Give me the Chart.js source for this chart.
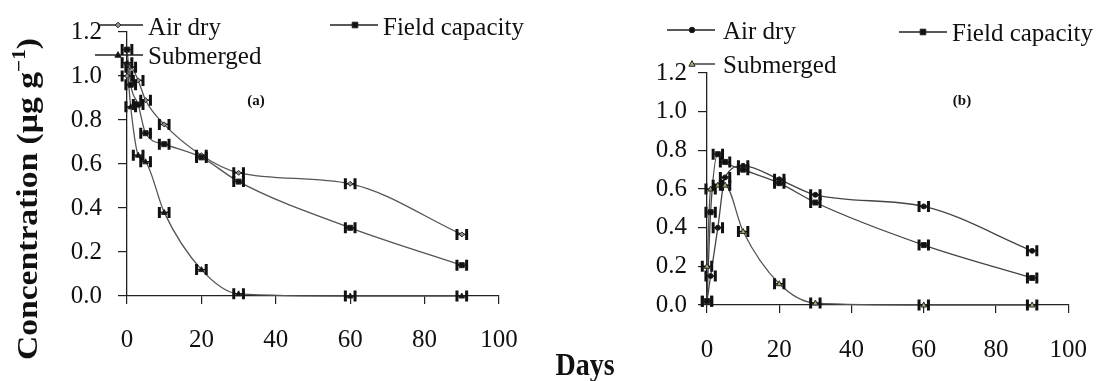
<!DOCTYPE html>
<html>
<head>
<meta charset="utf-8">
<script src="https://cdn.jsdelivr.net/npm/chart.js@4/dist/chart.umd.min.js"></script>
<style>
  body { margin: 0; background: #fff; width: 1109px; height: 381px; overflow: hidden; position: relative; }
  #ca { position: absolute; left: 0; top: 0; }
  #cb { position: absolute; left: 555px; top: 0; }
  #days { position: absolute; left: 585px; top: 365px; transform: translate(-50%, -50%) scaleY(1.1);
          font: bold 28px "Liberation Serif", "DejaVu Serif", serif; color: #111; }
</style>
</head>
<body>
<canvas id="ca" width="555" height="381"></canvas>
<canvas id="cb" width="554" height="381"></canvas>
<div id="days">Days</div>
<script>
// sampling days (both panels)
const days = [0, 1, 3, 5, 10, 20, 30, 60, 90];

// panel (a)
const airDryA    = [1.00, 1.04, 0.98, 0.89, 0.78, 0.64, 0.56, 0.51, 0.28];
const fieldCapA  = [1.12, 0.96, 0.87, 0.74, 0.69, 0.63, 0.52, 0.31, 0.14];
const submergedA = [1.06, 0.86, 0.64, 0.61, 0.38, 0.12, 0.01, 0.00, 0.00];

// panel (b)
const airDryB    = [0.02, 0.15, 0.40, 0.66, 0.72, 0.65, 0.57, 0.51, 0.28];
const fieldCapB  = [0.02, 0.48, 0.78, 0.74, 0.70, 0.63, 0.53, 0.31, 0.14];
const submergedB = [0.20, 0.60, 0.62, 0.62, 0.38, 0.11, 0.01, 0.00, 0.00];

// horizontal error (days)
const xError = 1.3;

const xTicks = [0, 20, 40, 60, 80, 100];
const yTicks = [0, 0.2, 0.4, 0.6, 0.8, 1.0, 1.2];

const SERIF = '"Liberation Serif", "DejaVu Serif", serif';
Chart.defaults.font.family = SERIF;
Chart.defaults.color = '#111';

const pts = vals => vals.map((v, i) => ({ x: days[i], y: v }));

function drawMarker(ctx, style, x, y, r, fill, stroke) {
  ctx.save();
  ctx.fillStyle = fill;
  ctx.strokeStyle = stroke;
  ctx.lineWidth = 1;
  ctx.beginPath();
  if (style === 'rect') {
    ctx.rect(x - r, y - r, 2 * r, 2 * r);
  } else if (style === 'rectRot') {
    ctx.moveTo(x, y - r); ctx.lineTo(x + r, y); ctx.lineTo(x, y + r); ctx.lineTo(x - r, y); ctx.closePath();
  } else if (style === 'triangle') {
    ctx.moveTo(x, y - r * 1.2); ctx.lineTo(x + r * 1.1, y + r * 0.8); ctx.lineTo(x - r * 1.1, y + r * 0.8); ctx.closePath();
  } else {
    ctx.arc(x, y, r, 0, Math.PI * 2);
  }
  ctx.fill();
  ctx.stroke();
  ctx.restore();
}

const errorBars = {
  id: 'errorBars',
  afterDatasetsDraw(chart) {
    const ctx = chart.ctx, xs = chart.scales.x;
    ctx.save();
    ctx.strokeStyle = '#111';
    chart.data.datasets.forEach((ds, i) => {
      chart.getDatasetMeta(i).data.forEach((el, j) => {
        const v = ds.data[j].x;
        const dx = xs.getPixelForValue(v + xError) - xs.getPixelForValue(v);
        ctx.lineWidth = 1.5;
        ctx.beginPath();
        ctx.moveTo(el.x - dx, el.y); ctx.lineTo(el.x + dx, el.y);
        ctx.stroke();
        ctx.lineWidth = 3;
        ctx.beginPath();
        ctx.moveTo(el.x - dx, el.y - 5.5); ctx.lineTo(el.x - dx, el.y + 5.5);
        ctx.moveTo(el.x + dx, el.y - 5.5); ctx.lineTo(el.x + dx, el.y + 5.5);
        ctx.stroke();
        drawMarker(ctx, ds.pointStyle, el.x, el.y, 2.5, ds.pointBackgroundColor, ds.pointBorderColor);
      });
    });
    ctx.restore();
  }
};

function legendPlugin(items, tag) {
  return {
    id: 'legendBox',
    afterDraw(chart) {
      const ctx = chart.ctx;
      ctx.save();
      items.forEach(it => {
        const ds = chart.data.datasets[it.ds];
        ctx.strokeStyle = '#222';
        ctx.lineWidth = 1.3;
        ctx.beginPath();
        ctx.moveTo(it.x1, it.y); ctx.lineTo(it.x2, it.y);
        ctx.stroke();
        drawMarker(ctx, ds.pointStyle, it.mx, it.y, 2.8, ds.pointBackgroundColor, ds.pointBorderColor);
        ctx.fillStyle = '#111';
        ctx.font = '25px ' + SERIF;
        ctx.textBaseline = 'middle';
        ctx.textAlign = 'left';
        ctx.fillText(ds.label, it.tx, it.ty);
      });
      ctx.font = 'bold 15px ' + SERIF;
      ctx.textAlign = 'center';
      ctx.fillText(tag.text, tag.x, tag.y);
      ctx.restore();
    }
  };
}

const yTitle = {
  id: 'yTitle',
  afterDraw(chart) {
    const ctx = chart.ctx;
    ctx.save();
    ctx.translate(37, 199);
    ctx.rotate(-Math.PI / 2);
    ctx.scale(1.12, 1);
    ctx.fillStyle = '#111';
    const main = 'Concentration (\u00b5g g', sup = '\u22121', close = ')';
    ctx.font = 'bold 30px ' + SERIF;
    const w1 = ctx.measureText(main).width, w3 = ctx.measureText(close).width;
    ctx.font = 'bold 19px ' + SERIF;
    const w2 = ctx.measureText(sup).width;
    let x = -(w1 + w2 + w3) / 2;
    ctx.textBaseline = 'alphabetic';
    ctx.font = 'bold 30px ' + SERIF;
    ctx.fillText(main, x, 0);
    x += w1;
    ctx.font = 'bold 19px ' + SERIF;
    ctx.fillText(sup, x, -12);
    x += w2;
    ctx.font = 'bold 30px ' + SERIF;
    ctx.fillText(close, x, 0);
    ctx.restore();
  }
};

function series(label, vals, style, fill, lineColor) {
  return {
    label, data: pts(vals),
    showLine: true,
    borderColor: lineColor, borderWidth: 1.3,
    pointStyle: style, pointRadius: 0,
    pointBackgroundColor: fill, pointBorderColor: '#222',
    cubicInterpolationMode: 'monotone',
    clip: false
  };
}

function axes(o) {
  return {
    x: {
      type: 'linear', min: 0, max: 100,
      afterBuildTicks: s => { s.ticks = xTicks.map(v => ({ value: v })); },
      afterFit: s => { s.height = o.xh; },
      grid: { drawOnChartArea: false, drawTicks: true, tickLength: 8, color: '#222', lineWidth: 1.2 },
      border: { display: true, color: '#222', width: 1.3 },
      ticks: { font: { size: 25 }, padding: o.xpad, color: '#111', maxRotation: 0 }
    },
    y: {
      type: 'linear', min: 0, max: 1.2,
      afterBuildTicks: s => { s.ticks = yTicks.map(v => ({ value: v })); },
      afterFit: s => { s.width = o.yw; },
      grid: { drawOnChartArea: false, drawTicks: true, tickLength: 9, color: '#222', lineWidth: 1.2 },
      border: { display: true, color: '#222', width: 1.3 },
      ticks: { font: { size: 25 }, padding: o.ypad, color: '#111', callback: v => v.toFixed(1) }
    }
  };
}

new Chart(document.getElementById('ca'), {
  type: 'scatter',
  data: {
    datasets: [
      series('Air dry', airDryA, 'rectRot', '#8c929c', '#555'),
      series('Field capacity', fieldCapA, 'rect', '#111', '#555'),
      series('Submerged', submergedA, 'triangle', '#111', '#555')
    ]
  },
  options: {
    responsive: false, animation: false, devicePixelRatio: 1,
    layout: { padding: { left: 60, right: 56, top: 32, bottom: 25 } },
    plugins: { legend: { display: false }, tooltip: { enabled: false } },
    scales: axes({ xh: 60, yw: 67, xpad: 21, ypad: 16 })
  },
  plugins: [errorBars, yTitle, legendPlugin([
    { ds: 0, x1: 100, x2: 143, mx: 118, y: 25, tx: 148, ty: 28 },
    { ds: 2, x1: 95, x2: 143, mx: 118, y: 55, tx: 148, ty: 57 },
    { ds: 1, x1: 330, x2: 378, mx: 355, y: 25, tx: 383, ty: 28 }
  ], { text: '(a)', x: 256, y: 101 })]
});

new Chart(document.getElementById('cb'), {
  type: 'scatter',
  data: {
    datasets: [
      series('Air dry', airDryB, 'circle', '#111', '#444'),
      series('Field capacity', fieldCapB, 'rect', '#111', '#444'),
      series('Submerged', submergedB, 'triangle', '#a3b36c', '#555')
    ]
  },
  options: {
    responsive: false, animation: false, devicePixelRatio: 1,
    layout: { padding: { left: 80, right: 22, top: 73, bottom: 20 } },
    plugins: { legend: { display: false }, tooltip: { enabled: false } },
    scales: axes({ xh: 56, yw: 72, xpad: 22, ypad: 11 })
  },
  plugins: [errorBars, legendPlugin([
    { ds: 0, x1: 112, x2: 160, mx: 137, y: 30, tx: 168, ty: 32 },
    { ds: 2, x1: 137, x2: 160, mx: 137, y: 64, tx: 168, ty: 66 },
    { ds: 1, x1: 344, x2: 392, mx: 368, y: 32, tx: 397, ty: 34 }
  ], { text: '(b)', x: 407, y: 101 })]
});
</script>
</body>
</html>
